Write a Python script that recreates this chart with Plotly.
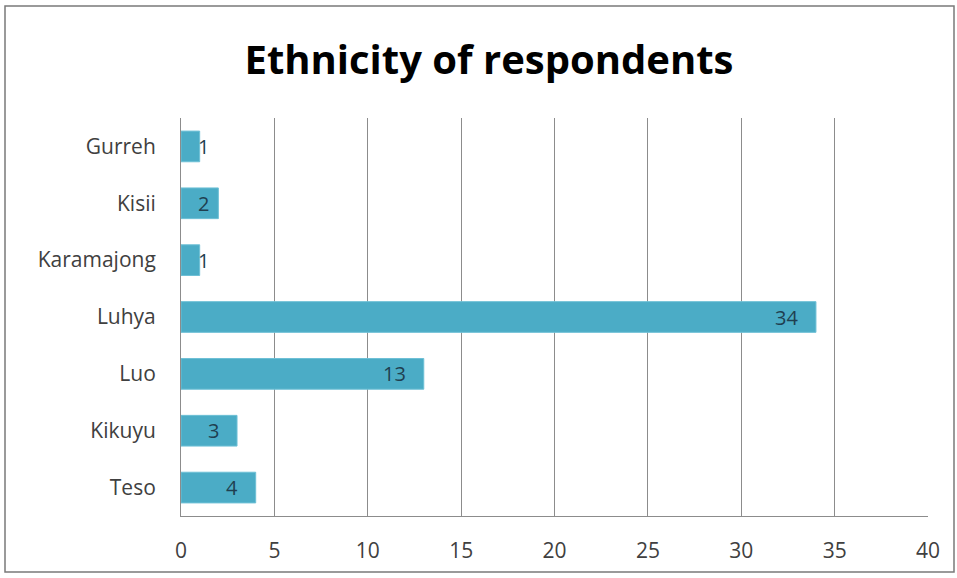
import plotly.graph_objects as go

categories = ["Teso", "Kikuyu", "Luo", "Luhya", "Karamajong", "Kisii", "Gurreh"]
values = [4, 3, 13, 34, 1, 2, 1]
x_ticks = [0, 5, 10, 15, 20, 25, 30, 35, 40]

W, H = 957, 578
ml, mr, mt, mb = 181, 29, 118, 62
pw, ph = W - ml - mr, H - mt - mb
x_max = 40
FONT = "Open Sans, sans-serif"
LABEL_SIZE = 20

fig = go.Figure(go.Bar(
    x=values, y=categories, orientation="h",
    marker=dict(color="#4BACC6", line=dict(color="#6EC0D6", width=1)),
    hoverinfo="x+y",
))

# data labels ("inside end" style, pushed right when the bar is too short)
ppu = pw / x_max
pad = 16
min_center = 22
annotations = []
for cat, v in zip(categories, values):
    txt = str(v)
    w = 11.5 * len(txt)
    if v * ppu - pad - w / 2 >= min_center:
        annotations.append(dict(x=v, y=cat, xref="x", yref="y", text=txt, showarrow=False,
                                xanchor="right", xshift=-pad,
                                font=dict(family=FONT, size=LABEL_SIZE, color="#1F3F50")))
    else:
        annotations.append(dict(x=0, y=cat, xref="x", yref="y", text=txt, showarrow=False,
                                xanchor="center", xshift=min_center,
                                font=dict(family=FONT, size=LABEL_SIZE, color="#1F3F50")))

def px2paper_x(p):
    return (p - ml) / pw

def px2paper_y(p):
    return (H - mb - p) / ph

fig.update_layout(
    width=W, height=H,
    margin=dict(l=ml, r=mr, t=mt, b=mb),
    paper_bgcolor="white", plot_bgcolor="white",
    bargap=0.46,
    showlegend=False,
    annotations=annotations,
    title=dict(text="<b>Ethnicity of respondents</b>", x=489 / W, xanchor="center",
               y=1 - 60 / H, yanchor="middle",
               font=dict(family=FONT, size=40, color="#000000")),
    xaxis=dict(range=[0, x_max], tickvals=x_ticks, showgrid=True, gridcolor="#8C8C8C", gridwidth=1,
               showline=True, linecolor="#8C8C8C", linewidth=1, zeroline=False,
               ticks="", tickfont=dict(family=FONT, size=21, color="#404040"),
               ticklabelstandoff=16, fixedrange=True),
    yaxis=dict(showline=True, linecolor="#8C8C8C", linewidth=1, showgrid=False,
               ticks="", tickfont=dict(family=FONT, size=21, color="#404040"),
               ticklabelstandoff=20, fixedrange=True),
    shapes=[dict(type="rect", xref="paper", yref="paper",
                 x0=px2paper_x(5), x1=px2paper_x(954), y0=px2paper_y(572), y1=px2paper_y(6),
                 line=dict(color="#7A7A7A", width=1.5), fillcolor="rgba(0,0,0,0)", layer="below")],
)

fig.write_html("out.html")
